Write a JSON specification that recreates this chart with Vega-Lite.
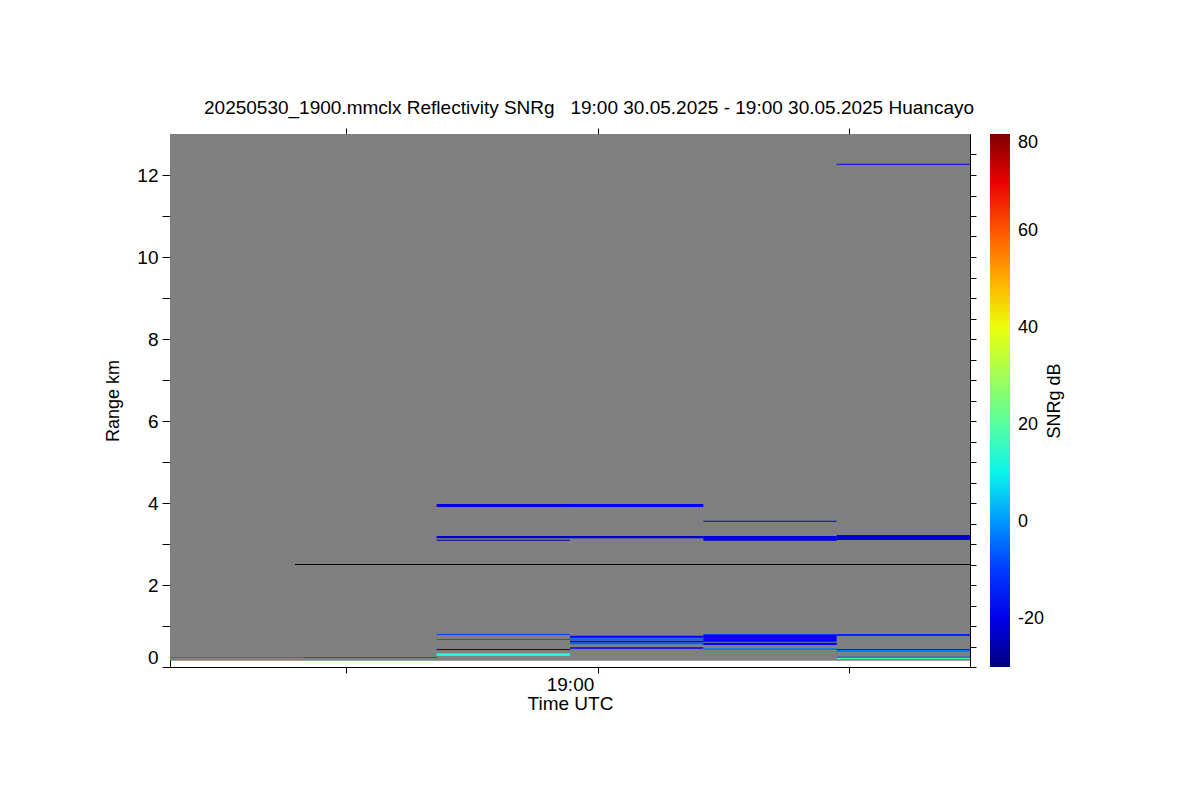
{
  "$schema": "https://vega.github.io/schema/vega-lite/v6.json",
  "autosize": {"type": "none"},
  "padding": {"left": 170, "top": 134, "right": 230, "bottom": 133},
  "width": 800,
  "height": 533,
  "background": "white",
  "config": {
    "font": "Liberation Sans",
    "view": {"stroke": null},
    "axis": {
      "domainColor": "black", "tickColor": "black", "labelColor": "black", "titleColor": "black",
      "grid": false, "labelFont": "Liberation Sans", "titleFont": "Liberation Sans",
      "titleFontWeight": "normal", "labelFontSize": 19, "titleFontSize": 19,
      "domainWidth": 1, "tickWidth": 1
    }
  },
  "title": {
    "text": "20250530_1900.mmclx Reflectivity SNRg\u00a0\u00a0\u00a019:00 30.05.2025 - 19:00 30.05.2025 Huancayo",
    "fontSize": 19, "fontWeight": "normal", "color": "black", "anchor": "middle",
    "frame": "group", "dx": 19, "offset": 10, "font": "Liberation Sans"
  },
  "datasets": {
    "background": [{"t0": -51, "t1": 44.4, "r0": 0.15, "r1": 13}],
    "marker": [{"t0": -36.1, "t1": 44.4, "r": 2.5}],
    "gates": [
      {"t0": -51, "t1": -35.1, "r0": 0.22, "r1": 0.244, "snr": -3},
      {"t0": -35.1, "t1": -19.2, "r0": 0.22, "r1": 0.244, "snr": -8},
      {"t0": -19.2, "t1": -3.3, "r0": 3.9, "r1": 3.976, "snr": -22},
      {"t0": -19.2, "t1": -3.3, "r0": 3.14, "r1": 3.195, "snr": -22},
      {"t0": -19.2, "t1": -3.3, "r0": 3.08, "r1": 3.105, "snr": -25},
      {"t0": -19.2, "t1": -3.3, "r0": 0.78, "r1": 0.805, "snr": -9},
      {"t0": -19.2, "t1": -3.3, "r0": 0.66, "r1": 0.683, "snr": -6},
      {"t0": -19.2, "t1": -3.3, "r0": 0.415, "r1": 0.44, "snr": -28},
      {"t0": -19.2, "t1": -3.3, "r0": 0.268, "r1": 0.334, "snr": 11},
      {"t0": -3.3, "t1": 12.6, "r0": 3.9, "r1": 3.976, "snr": -19},
      {"t0": -3.3, "t1": 12.6, "r0": 3.14, "r1": 3.195, "snr": -22},
      {"t0": -3.3, "t1": 12.6, "r0": 0.715, "r1": 0.764, "snr": -20},
      {"t0": -3.3, "t1": 12.6, "r0": 0.655, "r1": 0.7, "snr": -5},
      {"t0": -3.3, "t1": 12.6, "r0": 0.6, "r1": 0.64, "snr": -17},
      {"t0": -3.3, "t1": 12.6, "r0": 0.553, "r1": 0.6, "snr": -5},
      {"t0": -3.3, "t1": 12.6, "r0": 0.447, "r1": 0.48, "snr": -20},
      {"t0": 12.6, "t1": 28.5, "r0": 3.545, "r1": 3.57, "snr": -20},
      {"t0": 12.6, "t1": 28.5, "r0": 3.08, "r1": 3.195, "snr": -21},
      {"t0": 12.6, "t1": 28.5, "r0": 0.78, "r1": 0.805, "snr": -10},
      {"t0": 12.6, "t1": 28.5, "r0": 0.617, "r1": 0.78, "snr": -18},
      {"t0": 12.6, "t1": 28.5, "r0": 0.537, "r1": 0.593, "snr": -18},
      {"t0": 12.6, "t1": 28.5, "r0": 0.415, "r1": 0.456, "snr": -3},
      {"t0": 28.5, "t1": 44.4, "r0": 12.25, "r1": 12.275, "snr": -18},
      {"t0": 28.5, "t1": 44.4, "r0": 3.1, "r1": 3.22, "snr": -22},
      {"t0": 28.5, "t1": 44.4, "r0": 0.756, "r1": 0.805, "snr": -12},
      {"t0": 28.5, "t1": 44.4, "r0": 0.415, "r1": 0.44, "snr": -13},
      {"t0": 28.5, "t1": 44.4, "r0": 0.366, "r1": 0.415, "snr": -3},
      {"t0": 28.5, "t1": 44.4, "r0": 0.227, "r1": 0.25, "snr": -12},
      {"t0": 28.5, "t1": 44.4, "r0": 0.195, "r1": 0.227, "snr": 17}
    ]
  },
  "layer": [
    {
      "layer": [
        {
          "data": {"name": "background"},
          "mark": {"type": "rect", "color": "#808080"},
          "encoding": {
            "x": {
              "field": "t0", "type": "quantitative",
              "scale": {"domain": [-51, 44.4], "nice": false, "zero": false},
              "axis": {
                "orient": "bottom", "values": [-30, 0, 30], "labels": false, "tickSize": 6,
                "title": ["19:00", "Time UTC"], "titlePadding": 2, "titleLineHeight": 19
              }
            },
            "x2": {"field": "t1"},
            "y": {
              "field": "r0", "type": "quantitative",
              "scale": {"domain": [0, 13], "nice": false, "zero": false},
              "axis": {
                "orient": "left",
                "values": [0, 0.5, 1, 1.5, 2, 2.5, 3, 3.5, 4, 4.5, 5, 5.5, 6, 6.5, 7, 7.5, 8, 8.5, 9, 9.5, 10, 10.5, 11, 11.5, 12, 12.5],
                "labelExpr": "datum.value % 2 === 0 ? '' + datum.value : ''",
                "tickSize": 8, "labelPadding": 4, "labelFlush": true, "labelFlushOffset": 0,
                "title": "Range km", "titleFontSize": 18, "titlePadding": 14
              }
            },
            "y2": {"field": "r1"}
          }
        },
        {
          "data": {"name": "gates"},
          "mark": {"type": "rect"},
          "encoding": {
            "x": {"field": "t0", "type": "quantitative"},
            "x2": {"field": "t1"},
            "y": {"field": "r0", "type": "quantitative"},
            "y2": {"field": "r1"},
            "color": {
              "field": "snr", "type": "quantitative",
              "scale": {
                "domain": [-30, -17.9, -16.25, 7.4, 8.5, 11.25, 40.4, 41.5, 42.6, 67.9, 70.1, 80],
                "range": ["#000080", "#0000ff", "#0000ff", "#00dbff", "#00e6f7", "#15ffe2", "#eeff08", "#f7f500", "#ffec00", "#ff1300", "#e80000", "#800000"],
                "interpolate": "rgb"
              },
              "legend": {
                "orient": "none", "legendX": 820, "legendY": 0, "direction": "vertical",
                "gradientLength": 533, "gradientThickness": 20, "title": null,
                "values": [-20, 0, 20, 40, 60, 80], "labelFontSize": 18, "labelOffset": 8,
                "labelColor": "black", "labelFont": "Liberation Sans", "gradientStrokeWidth": 0,
                "padding": 0, "labelExpr": "'' + datum.value"
              }
            }
          }
        },
        {
          "data": {"name": "marker"},
          "mark": {"type": "rule", "color": "black", "strokeWidth": 1},
          "encoding": {
            "x": {"field": "t0", "type": "quantitative"},
            "x2": {"field": "t1"},
            "y": {"field": "r", "type": "quantitative"}
          }
        }
      ]
    },
    {
      "data": {"name": "background"},
      "mark": {"type": "rect", "opacity": 0},
      "encoding": {
        "x": {
          "field": "t0", "type": "quantitative",
          "scale": {"domain": [-51, 44.4], "nice": false, "zero": false},
          "axis": {"orient": "top", "values": [-30, 0, 30], "labels": false, "tickSize": 6, "title": null}
        },
        "x2": {"field": "t1"},
        "y": {
          "field": "r0", "type": "quantitative",
          "scale": {"domain": [0, 13], "nice": false, "zero": false},
          "axis": {
            "orient": "right",
            "values": [0, 0.5, 1, 1.5, 2, 2.5, 3, 3.5, 4, 4.5, 5, 5.5, 6, 6.5, 7, 7.5, 8, 8.5, 9, 9.5, 10, 10.5, 11, 11.5, 12, 12.5],
            "labels": false, "tickSize": 6,
            "title": "SNRg dB", "titleFontSize": 18, "titleAngle": 270, "titleBaseline": "top",
            "titlePadding": 69
          }
        },
        "y2": {"field": "r1"}
      }
    }
  ],
  "resolve": {"scale": {"x": "independent", "y": "independent"}}
}
